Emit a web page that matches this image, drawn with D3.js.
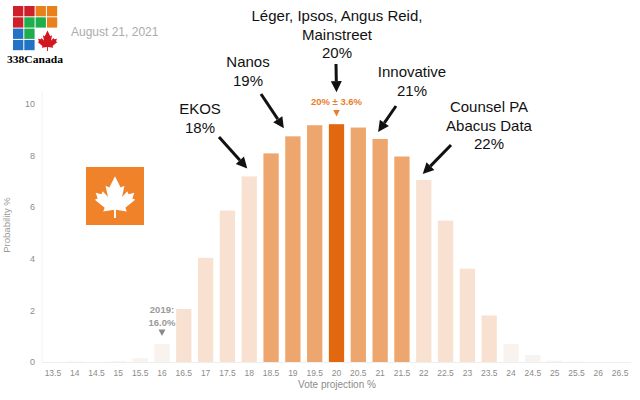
<!DOCTYPE html>
<meta charset="utf-8">
<script src="https://d3js.org/d3.v7.min.js"></script>
<style>
  body { margin: 0; background: #fff; }
  text { font-family: "Liberation Sans", Arial, sans-serif; }
</style>
<svg id="chart" width="640" height="400"></svg>
<script>

// Vote projection buckets (x axis)
var buckets = ["13.5","14","14.5","15","15.5","16","16.5","17","17.5","18","18.5","19","19.5",
               "20","20.5","21","21.5","22","22.5","23","23.5","24","24.5","25","25.5","26","26.5"];

// Probability % per bucket
var probability = [0, 0.02, 0, 0.03, 0.15, 0.7, 2.05, 4.03, 5.86, 7.18, 8.07, 8.73, 9.16,
                   9.2, 9.07, 8.63, 7.95, 7.04, 5.47, 3.61, 1.8, 0.7, 0.27, 0.05, 0.02, 0, 0];

// Shade tier per bucket: 0 = tail, 1 = outer, 2 = inner interval, 3 = projection
var tier = [0,0,0,0,0,0,1,1,1,1,2,2,2,3,2,2,2,1,1,1,1,0,0,0,0,0,0];

var yTicks = [0, 2, 4, 6, 8, 10];

// Poll labels pointing at buckets
var polls = [
  {bucket: "18", lines: ["EKOS", "18%"]},
  {bucket: "19", lines: ["Nanos", "19%"]},
  {bucket: "20", lines: ["Léger, Ipsos, Angus Reid,", "Mainstreet", "20%"]},
  {bucket: "21", lines: ["Innovative", "21%"]},
  {bucket: "22", lines: ["Counsel PA", "Abacus Data", "22%"]}
];

var svg = d3.select("#chart");
var tierColor = ["#f8f3ef", "#f9e1d1", "#eca66e", "#e2680f"];

var x = d3.scaleBand()
    .domain(buckets)
    .range([42, 631])
    .paddingInner(0.3)
    .paddingOuter(0.15);

var y = d3.scaleLinear()
    .domain([0, 10])
    .range([362, 103.5]);

// faint frame lines
svg.append("line").attr("x1", 42).attr("x2", 42).attr("y1", 92).attr("y2", 362)
   .attr("stroke", "#f2f2f2");
svg.append("line").attr("x1", 42).attr("x2", 631).attr("y1", 362.5).attr("y2", 362.5)
   .attr("stroke", "#eeeeee");

// bars
svg.append("g")
  .selectAll("rect")
  .data(buckets)
  .enter()
  .append("rect")
    .attr("x", function(d){ return x(d) })
    .attr("width", x.bandwidth())
    .attr("y", function(d, i){ return y(probability[i]) })
    .attr("height", function(d, i){ return y(0) - y(probability[i]) })
    .attr("fill", function(d, i){ return tierColor[tier[i]] });

// y axis
var yAxis = svg.append("g")
    .attr("transform", "translate(38,0)")
    .call(d3.axisLeft(y).tickValues(yTicks).tickSize(0));
yAxis.select(".domain").remove();
yAxis.selectAll("text").attr("fill", "#8c8c8c").style("font-size", "9px")
     .style("font-family", "Liberation Sans, Arial, sans-serif");

// x axis
var xAxis = svg.append("g")
    .attr("transform", "translate(0,367)")
    .call(d3.axisBottom(x).tickSize(0));
xAxis.select(".domain").remove();
xAxis.selectAll("text").attr("fill", "#8c8c8c").style("font-size", "8.5px")
     .style("font-family", "Liberation Sans, Arial, sans-serif");

// axis titles
svg.append("text")
    .attr("x", 337).attr("y", 388)
    .attr("text-anchor", "middle")
    .attr("fill", "#8c8c8c").style("font-size", "10px")
    .text("Vote projection %");
svg.append("text")
    .attr("transform", "translate(10,225) rotate(-90)")
    .attr("text-anchor", "middle")
    .attr("fill", "#999").style("font-size", "9.5px")
    .text("Probability %");

// logo block
var logoCols = [["#cf1f2a","#cf1f2a","#e8801c","#e8801c"],
                ["#cf1f2a","#1fae4c","#1fae4c","#e8801c"],
                ["#2372c4","#1fae4c", null, null],
                ["#2372c4","#2372c4", null, null]];
logoCols.forEach(function(row, r){
  row.forEach(function(c, k){
    if (c) svg.append("rect")
      .attr("x", 13 + k * 11.3).attr("y", 6 + r * 11.3)
      .attr("width", 10.3).attr("height", 10.3).attr("fill", c);
  });
});

var leaf = "M48,96 L52,96 L52,78 L75,82 L72,74 L93,57 L87,54 L91,42 L79,45 L76,39 L65,51 L70,27 L62,31 L50,7 L38,31 L30,27 L35,51 L24,39 L21,45 L9,42 L13,54 L7,57 L28,74 L25,82 L48,78 Z";
svg.append("path").attr("d", leaf).attr("fill", "#d2161f")
   .attr("transform", "translate(36,29) scale(0.23)");
svg.append("text")
    .attr("x", 7).attr("y", 63)
    .attr("textLength", 56).attr("lengthAdjust", "spacingAndGlyphs")
    .style("font-family", "Liberation Serif, serif")
    .style("font-weight", "bold").style("font-size", "11px")
    .text("338Canada");

svg.append("text")
    .attr("x", 71).attr("y", 36)
    .attr("fill", "#ababab").style("font-size", "12px")
    .text("August 21, 2021");

// party tile
svg.append("rect").attr("x", 86).attr("y", 167).attr("width", 58).attr("height", 58)
   .attr("fill", "#f0822a");
svg.append("path").attr("d", leaf).attr("fill", "#fff")
   .attr("transform", "translate(91.5,173) scale(0.47)");

// small down triangle
function tri(cx, top, w, h, color) {
  svg.append("path")
     .attr("d", "M" + (cx - w / 2) + "," + top + "L" + (cx + w / 2) + "," + top +
                "L" + cx + "," + (top + h) + "Z")
     .attr("fill", color);
}

// 2019 marker
var x2019 = x("16") + x.bandwidth() / 2;
svg.append("text").attr("x", x2019).attr("y", 313).attr("text-anchor", "middle")
   .attr("fill", "#9a9a9a").style("font-size", "9.5px").style("font-weight", "bold")
   .text("2019:");
svg.append("text").attr("x", x2019).attr("y", 326).attr("text-anchor", "middle")
   .attr("fill", "#9a9a9a").style("font-size", "9.5px").style("font-weight", "bold")
   .text("16.0%");
tri(x2019, 329.5, 7, 6.5, "#8a8a8a");

// projection label
var xc = x("20") + x.bandwidth() / 2;
svg.append("text").attr("x", xc).attr("y", 105).attr("text-anchor", "middle")
   .attr("fill", "#ea7d2c").style("font-size", "9.5px").style("font-weight", "bold")
   .text("20% ± 3.6%");
tri(xc, 110, 6.5, 6.5, "#ea7d2c");

// poll annotations: text position and arrow start, arrow tip from the bar top
var place = {
  "18": {tx: 200, ty: 114, sx: 219, sy: 137, dx: -2, dy: 8},
  "19": {tx: 248, ty: 67,  sx: 261, sy: 94,  dx: -9, dy: 8},
  "20": {tx: 337, ty: 21,  sx: 336, sy: 64,  dx: 0,  dy: 32},
  "21": {tx: 412, ty: 77,  sx: 396, sy: 106, dx: -2, dy: 7},
  "22": {tx: 489, ty: 112, sx: 451, sy: 145, dx: -1, dy: 6}
};

polls.forEach(function(p){
  var pl = place[p.bucket];
  var t = svg.append("text").attr("text-anchor", "middle").attr("fill", "#111")
      .style("font-size", "15px");
  p.lines.forEach(function(l, i){
    t.append("tspan").attr("x", pl.tx).attr("y", pl.ty + i * 18.7).text(l);
  });
  var i = buckets.indexOf(p.bucket);
  var ex = x(p.bucket) + x.bandwidth() / 2 + pl.dx;
  var ey = y(probability[i]) - pl.dy;
  var ang = Math.atan2(ey - pl.sy, ex - pl.sx);
  var hl = 11, hw = 5.5;
  var bx = ex - hl * Math.cos(ang), by = ey - hl * Math.sin(ang);
  svg.append("line").attr("x1", pl.sx).attr("y1", pl.sy).attr("x2", bx).attr("y2", by)
     .attr("stroke", "#111").attr("stroke-width", 3);
  svg.append("path")
     .attr("d", "M" + ex + "," + ey +
                "L" + (bx + hw * Math.sin(ang)) + "," + (by - hw * Math.cos(ang)) +
                "L" + (bx - hw * Math.sin(ang)) + "," + (by + hw * Math.cos(ang)) + "Z")
     .attr("fill", "#111");
});

</script>
